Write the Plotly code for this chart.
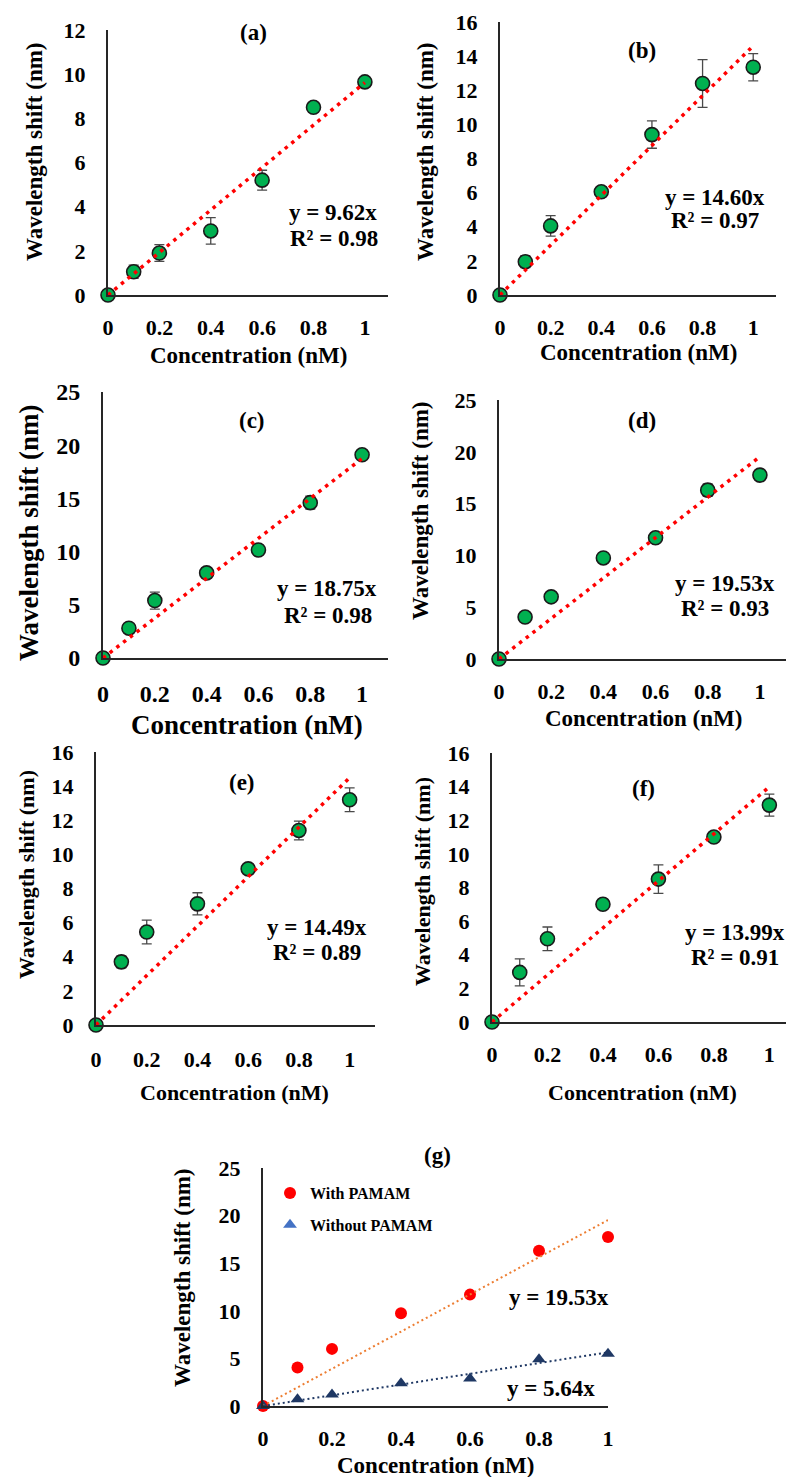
import plotly.graph_objects as go

W, H = 787, 1477

# ---------------- data ----------------
conc = [0, 0.1, 0.2, 0.4, 0.6, 0.8, 1.0]

a_y = [0, 1.05, 1.9, 2.9, 5.2, 8.5, 9.65]
a_err = [0, 0.3, 0.38, 0.6, 0.45, 0.12, 0.1]
b_y = [0, 1.95, 4.05, 6.05, 9.4, 12.4, 13.35]
b_err = [0, 0.35, 0.6, 0.3, 0.8, 1.4, 0.8]
c_y = [0, 2.8, 5.4, 8.0, 10.15, 14.6, 19.1]
c_err = [0, 0.2, 0.8, 0.5, 0.3, 0.6, 0.2]
d_y = [0, 4.05, 6.0, 9.75, 11.7, 16.3, 17.75]
d_err = [0, 0.1, 0.1, 0.1, 0.3, 0.6, 0.1]
e_y = [0, 3.7, 5.45, 7.1, 9.15, 11.4, 13.2]
e_err = [0, 0.35, 0.7, 0.65, 0.2, 0.55, 0.7]
f_y = [0, 2.95, 4.95, 7.0, 8.5, 11.0, 12.9]
f_err = [0, 0.8, 0.7, 0.3, 0.85, 0.2, 0.65]

g_with = [0, 4.05, 6.0, 9.75, 11.7, 16.3, 17.75]
g_without = [0, 0.7, 1.2, 2.4, 2.9, 4.9, 5.5]

slopes = [9.62, 14.60, 18.75, 19.53, 14.49, 13.99]
r2 = [0.98, 0.97, 0.98, 0.93, 0.89, 0.91]
g_slopes = [19.53, 5.64]
panel_labels = ["(a)", "(b)", "(c)", "(d)", "(e)", "(f)", "(g)"]
legend_names = ["With PAMAM", "Without PAMAM"]
x_title = "Concentration (nM)"
y_title = "Wavelength shift (nm)"

# ---------------- layout geometry (pixels) ----------------
# x0, x1, xmax, ybottom, ytop, ymax, dtick, font size, tick standoff
geom = [
    (108, 388, 1.09, 295, 30, 12, 2, 22, 12),
    (500, 776, 1.09, 295, 22, 16, 2, 22, 12),
    (103, 388, 1.10, 658, 392, 25, 5, 24, 13),
    (499, 786, 1.10, 659, 400, 25, 5, 22, 12),
    (96, 375, 1.10, 1025, 752, 16, 2, 22, 14),
    (492, 786, 1.06, 1022, 753, 16, 2, 22, 12),
    (263, 608, 1.00, 1406, 1168, 25, 5, 22, 12),
]
# annotation positions: label, eq, r2, ytitle, xtitle (pixel centers)
label_pos = [(253, 33), (642, 50), (252, 420), (642, 420), (242, 782), (643, 788), (437, 1155)]
eq_pos = [(333, 213), (715, 197), (327, 588), (725, 583), (317, 927), (735, 932)]
r2_pos = [(334, 238), (715, 220), (328, 615), (725, 608), (317, 952), (735, 957)]
ytitle_pos = [(34, 152), (425, 152), (29, 533), (420, 511), (26, 875), (423, 882), (182, 1278)]
xtitle_pos = [(248, 355), (638, 353), (247, 725), (643, 718), (235, 1092), (642, 1092), (435, 1465)]
ytitle_size = [23, 23, 27, 23, 22, 22, 23]
xtitle_size = [23, 23, 27, 23, 22, 22, 23]
g_eq_pos = [(559, 1297), (551, 1388)]

FONT = "Liberation Serif, Times New Roman, serif"
AXIS_COLOR = "#262626"
GREEN = "#00B050"


def px(x):
    return x / W


def py(y):
    return 1 - y / H


fig = go.Figure()
layout = dict(
    width=W, height=H, margin=dict(l=0, r=0, t=0, b=0, autoexpand=False),
    paper_bgcolor="white", plot_bgcolor="white", showlegend=True,
)

for i, (x0, x1, xmax, yb, yt, ymax, dt, fs, stand) in enumerate(geom):
    n = "" if i == 0 else str(i + 1)
    layout["xaxis" + n] = dict(
        domain=[px(x0), px(x1)], range=[0, xmax], anchor="y" + n,
        showline=True, linecolor=AXIS_COLOR, linewidth=2, showgrid=False,
        zeroline=False, ticks="", tickvals=[0, 0.2, 0.4, 0.6, 0.8, 1],
        ticktext=["0", "0.2", "0.4", "0.6", "0.8", "1"],
        tickfont=dict(family=FONT, size=fs, color="black", weight="bold"),
        ticklabelstandoff=stand,
    )
    layout["yaxis" + n] = dict(
        domain=[py(yb), py(yt)], range=[0, ymax], anchor="x" + n,
        showline=True, linecolor=AXIS_COLOR, linewidth=2, showgrid=False,
        zeroline=False, ticks="", dtick=dt, tick0=0,
        tickfont=dict(family=FONT, size=fs, color="black", weight="bold"),
        ticklabelstandoff=16,
    )

series = [(a_y, a_err), (b_y, b_err), (c_y, c_err), (d_y, d_err), (e_y, e_err), (f_y, f_err)]
for i, (ys, errs) in enumerate(series):
    n = "" if i == 0 else str(i + 1)
    fig.add_trace(go.Scatter(
        x=conc, y=ys, mode="markers", xaxis="x" + n, yaxis="y" + n,
        showlegend=False, cliponaxis=False,
        marker=dict(size=14, color=GREEN, line=dict(color="#1a1a1a", width=1.6)),
        error_y=dict(type="data", array=errs, visible=True, color="#4a4a4a",
                     thickness=1.3, width=5),
    ))
    fig.add_trace(go.Scatter(
        x=[0, 1], y=[0, slopes[i]], mode="lines", xaxis="x" + n, yaxis="y" + n,
        showlegend=False, cliponaxis=False,
        line=dict(color="#FF0000", width=3.5, dash="3.5px,5px"),
    ))

# panel (g)
fig.add_trace(go.Scatter(
    x=conc, y=g_with, mode="markers", xaxis="x7", yaxis="y7", showlegend=False,
    cliponaxis=False, marker=dict(size=12, color="#FF0000"),
))
fig.add_trace(go.Scatter(
    x=conc, y=g_without, mode="markers", xaxis="x7", yaxis="y7", showlegend=False,
    cliponaxis=False, marker=dict(size=12, symbol="triangle-up", color="#1F3864"),
))
fig.add_trace(go.Scatter(
    x=[0, 1], y=[0, g_slopes[0]], mode="lines", xaxis="x7", yaxis="y7",
    showlegend=False, cliponaxis=False,
    line=dict(color="#ED7D31", width=2, dash="2px,3px"),
))
fig.add_trace(go.Scatter(
    x=[0, 1], y=[0, g_slopes[1]], mode="lines", xaxis="x7", yaxis="y7",
    showlegend=False, cliponaxis=False,
    line=dict(color="#1F3864", width=2, dash="2px,3px"),
))
# legend entries
fig.add_trace(go.Scatter(
    x=[None], y=[None], mode="markers", xaxis="x7", yaxis="y7",
    name=legend_names[0], legendgroup="g1",
    marker=dict(size=12, color="#FF0000"),
))
fig.add_trace(go.Scatter(
    x=[None], y=[None], mode="markers", xaxis="x7", yaxis="y7",
    name=legend_names[1], legendgroup="g2",
    marker=dict(size=12, symbol="triangle-up", color="#4472C4"),
))

layout["legend"] = dict(
    x=px(270), y=py(1176), xanchor="left", yanchor="top",
    bgcolor="rgba(0,0,0,0)", itemwidth=30, tracegroupgap=8,
    font=dict(family=FONT, size=16, color="black", weight="bold"),
)

ann = []


def add_text(text, pos, size, angle=0):
    ann.append(dict(
        text=text, x=px(pos[0]), y=py(pos[1]), xref="paper", yref="paper",
        xanchor="center", yanchor="middle", showarrow=False, textangle=angle,
        font=dict(family=FONT, size=size, color="black", weight="bold"),
    ))


for i in range(7):
    add_text(panel_labels[i], label_pos[i], 23)
    add_text(y_title, ytitle_pos[i], ytitle_size[i], angle=-90)
    add_text(x_title, xtitle_pos[i], xtitle_size[i])
for i in range(6):
    add_text("y = %.2fx" % slopes[i], eq_pos[i], 23)
    add_text("R² = %.2f" % r2[i], r2_pos[i], 23)
for i in range(2):
    add_text("y = %.2fx" % g_slopes[i], g_eq_pos[i], 23)

layout["annotations"] = ann
fig.update_layout(**layout)
fig.write_html(
    "out.html",
    config={"displayModeBar": False},
    post_script="document.body.style.margin='0';document.body.style.overflow='hidden';",
)
